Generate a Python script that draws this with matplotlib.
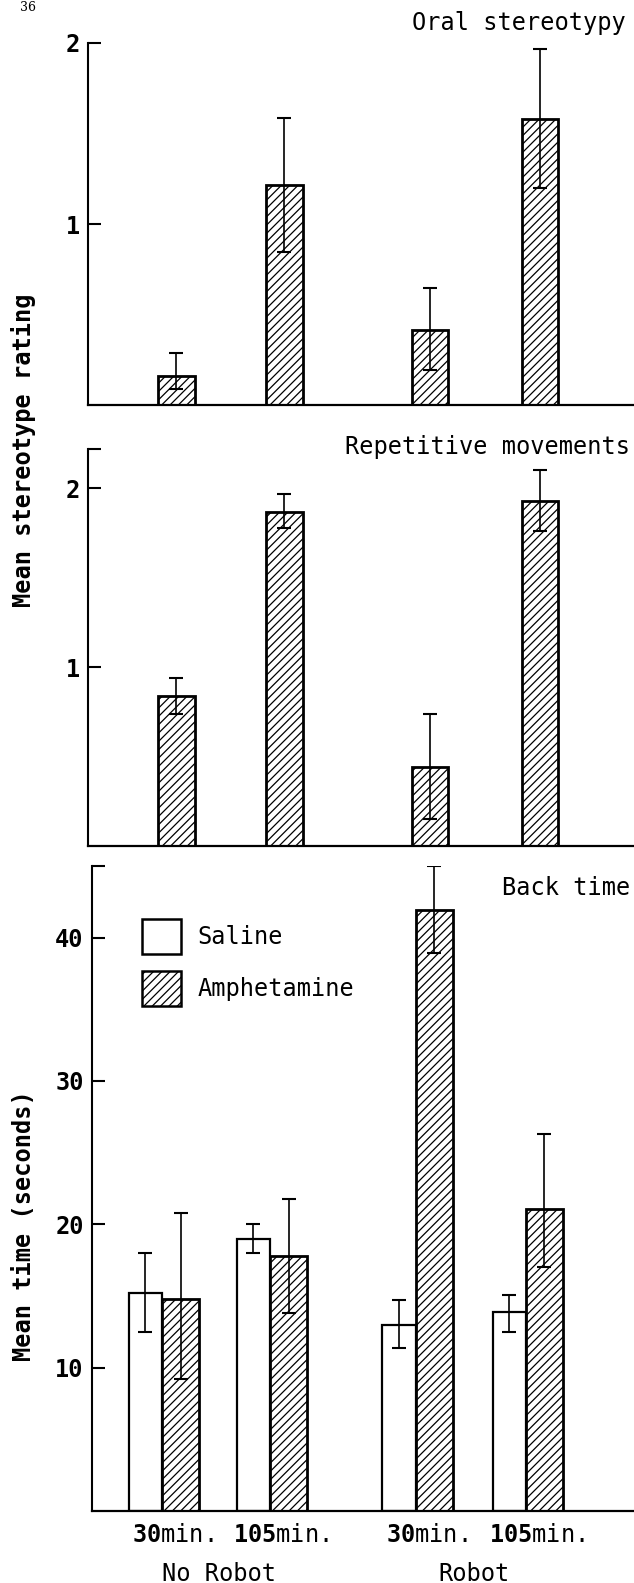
import matplotlib
matplotlib.use("Agg")
import matplotlib.pyplot as plt
from matplotlib.patches import Patch
import numpy as np

plt.rcParams['font.family'] = 'DejaVu Sans Mono'
plt.rcParams['mathtext.fontset'] = 'custom'
plt.rcParams['mathtext.bf'] = 'DejaVu Sans Mono:bold'
plt.rcParams['mathtext.rm'] = 'DejaVu Sans Mono'
plt.rcParams['hatch.linewidth'] = 0.9

# groups: No Robot 30 / 105 min, Robot 30 / 105 min
time_labels = ["30", "105", "30", "105"]
group_names = ["No Robot", "Robot"]

# oral stereotypy (amphetamine only)
oral_mean = [0.16, 1.215, 0.414, 1.58]
oral_lo = [0.09, 0.845, 0.193, 1.20]
oral_hi = [0.29, 1.585, 0.646, 1.967]

# repetitive movements (amphetamine only)
rep_mean = [0.84, 1.87, 0.44, 1.93]
rep_lo = [0.74, 1.78, 0.15, 1.76]
rep_hi = [0.94, 1.97, 0.74, 2.10]

# back time, seconds
sal_mean = [15.2, 18.95, 13.0, 13.9]
sal_lo = [12.5, 18.0, 11.4, 12.5]
sal_hi = [18.0, 20.0, 14.75, 15.1]
amp_mean = [14.8, 17.8, 41.9, 21.1]
amp_lo = [9.2, 13.8, 38.9, 17.0]
amp_hi = [20.8, 21.75, 45.0, 26.3]

pos = np.array([0.0, 1.0, 2.35, 3.37])
amp_w = 0.34
sal_w = 0.31
HATCH = '////'


def yerr(mean, lo, hi):
    m = np.array(mean)
    return [m - np.array(lo), np.array(hi) - m]


def style_axis(ax, ticks, top):
    for s in ['top', 'right']:
        ax.spines[s].set_visible(False)
    ax.spines['left'].set_linewidth(1.5)
    ax.spines['bottom'].set_linewidth(1.6)
    ax.set_xlim(-0.82, 4.24)
    ax.set_ylim(0, top)
    ax.set_yticks(list(ticks) + [top])
    ax.set_yticklabels([str(t) for t in ticks] + [""], fontweight='bold', fontsize=17)
    ax.tick_params(axis='y', direction='in', length=9, width=1.5, pad=6)
    ax.set_xticks([])


def amph_bars(ax, mean, lo, hi):
    ax.bar(pos, mean, amp_w, color='white', edgecolor='black', hatch=HATCH, linewidth=2.0, zorder=2)
    ax.errorbar(pos, mean, yerr=yerr(mean, lo, hi), fmt='none', ecolor='black',
                elinewidth=1.2, capsize=5, capthick=1.5, zorder=3)


fig = plt.figure(figsize=(6.34, 15.83), dpi=100)

ax1 = fig.add_axes([88 / 634, 1 - 405 / 1583, 546 / 634, 362 / 1583])
amph_bars(ax1, oral_mean, oral_lo, oral_hi)
style_axis(ax1, [1, 2], 2)
ax1.set_yticks([1, 2])
ax1.set_yticklabels(["1", "2"], fontweight='bold', fontsize=17)
fig.text(626 / 634, 1 - 23 / 1583, "Oral stereotypy", ha='right', va='center', fontsize=17)

ax2 = fig.add_axes([88 / 634, 1 - 846 / 1583, 546 / 634, 397 / 1583])
amph_bars(ax2, rep_mean, rep_lo, rep_hi)
style_axis(ax2, [1, 2], 2.22)
fig.text(630 / 634, 1 - 447 / 1583, "Repetitive movements", ha='right', va='center', fontsize=17)

ax3 = fig.add_axes([92 / 634, 1 - 1511 / 1583, 542 / 634, 645 / 1583])
ax3.bar(pos - amp_w / 2 - sal_w / 2, sal_mean, sal_w, color='white', edgecolor='black',
        linewidth=1.6, zorder=2)
ax3.errorbar(pos - amp_w / 2 - sal_w / 2, sal_mean, yerr=yerr(sal_mean, sal_lo, sal_hi), fmt='none',
             ecolor='black', elinewidth=1.2, capsize=5, capthick=1.5, zorder=3)
amph_bars(ax3, amp_mean, amp_lo, amp_hi)
style_axis(ax3, [10, 20, 30, 40], 45)
ax3.set_xlim(-0.82, 4.2)
fig.text(630 / 634, 1 - 888 / 1583, "Back time", ha='right', va='center', fontsize=17)

# time labels under the pairs
ax3.set_xticks(pos - 0.07)
ax3.set_xticklabels([r"$\mathbf{%s}$min." % t for t in time_labels], fontsize=17)
ax3.tick_params(axis='x', length=0, pad=9)
centers = pos - amp_w / 2
for i, name in enumerate(group_names):
    xc = (centers[2 * i] + centers[2 * i + 1]) / 2 + 0.03
    ax3.text(xc, -0.097, name, transform=ax3.get_xaxis_transform(), ha='center', va='center',
             fontsize=17)

handles = [Patch(facecolor='white', edgecolor='black', linewidth=1.8),
           Patch(facecolor='white', edgecolor='black', linewidth=1.8, hatch=HATCH)]
fig.legend(handles, ["Saline", "Amphetamine"], loc='upper left',
           bbox_to_anchor=(142 / 634, 1 - 919 / 1583), frameon=False, fontsize=17,
           handlelength=1.65, handleheight=1.93, handletextpad=0.7, labelspacing=0.7,
           borderpad=0, borderaxespad=0)

fig.text(24 / 634, 1 - 450 / 1583, "Mean stereotype rating", rotation=90, ha='center', va='center',
         fontsize=17, fontweight='bold')
fig.text(24 / 634, 1 - 1226 / 1583, "Mean time (seconds)", rotation=90, ha='center', va='center',
         fontsize=17, fontweight='bold')
fig.text(28 / 634, 1 - 1 / 1583, "36", ha='center', va='top', fontsize=9, family='serif')

fig.savefig("out.png", dpi=100)
